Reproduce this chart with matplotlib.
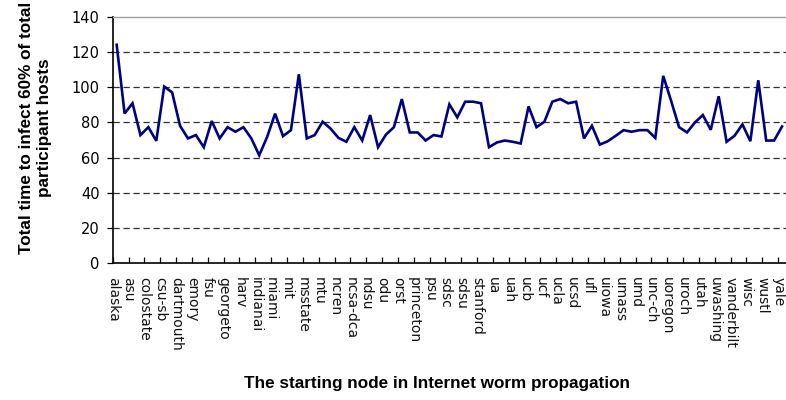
import matplotlib
matplotlib.use("Agg")
import matplotlib.pyplot as plt
import numpy as np

# Values for every starting node (85 categories, every other one labelled)
infect_time = [124.2, 85.1, 90.9, 72.8, 77.3, 69.5, 100.4, 97.1, 78.1, 70.9,
               72.8, 65.9, 80.8, 70.9, 77.3, 74.7, 77.3, 70.9, 61.3, 71.8,
               85.0, 72.2, 75.6, 107.4, 70.9, 72.8, 80.4, 76.5, 71.2, 69.0,
               77.3, 69.7, 84.2, 65.9, 73.1, 77.3, 93.3, 74.3, 74.3, 69.7,
               72.8, 72.0, 90.3, 82.9, 91.8, 91.8, 90.9, 65.9, 68.6, 69.7,
               69.0, 68.0, 89.1, 77.3, 80.4, 91.8, 93.3, 90.9, 91.8, 70.9,
               78.1, 67.4, 69.3, 72.4, 75.6, 74.7, 75.6, 75.6, 71.2, 106.5,
               92.2, 77.3, 74.3, 80.0, 84.2, 75.8, 94.9, 69.0, 72.4, 78.9,
               69.3, 104.0, 69.7, 69.7, 77.7]

tick_labels = ["alaska", "asu", "colostate", "csu-sb", "dartmouth", "emory",
               "fsu", "georgeto", "harv", "indianai", "miami", "mit",
               "msstate", "mtu", "ncren", "ncsa-dca", "ndsu", "odu", "orst",
               "princeton", "psu", "sdsc", "sdsu", "stanford", "ua", "uah",
               "ucb", "ucf", "ucla", "ucsd", "ufl", "uiowa", "umass", "umd",
               "unc-ch", "uoregon", "uroch", "utah", "uwashing", "vanderbilt",
               "wisc", "wustl", "yale"]

y_ticks = [0, 20, 40, 60, 80, 100, 120, 140]

fig = plt.figure(figsize=(7.86, 4.0), dpi=100)
ax = fig.add_axes([0.1434, 0.3425, 0.8566, 0.615])

x = np.arange(len(infect_time))
ax.plot(x, infect_time, color="#000080", linewidth=1.9, solid_joinstyle="miter")

ax.set_xlim(-0.5, len(infect_time) - 0.5)
ax.set_ylim(0, 140)

ax.set_yticks(y_ticks)
ax.set_yticklabels([str(v) for v in y_ticks], fontsize=10.5, family="DejaVu Sans")
for v in y_ticks[1:-1]:
    ax.axhline(v, color="#303030", linewidth=0.9, dashes=(5, 3), zorder=0)

tick_pos = np.arange(len(tick_labels)) * 2 - 0.5
ax.set_xticks(tick_pos)
ax.set_xticklabels(tick_labels, rotation=-90, fontsize=10,
                   family="DejaVu Sans", va="top", ha="center", color="#111111")
ax.tick_params(axis="x", direction="in", length=4.5, width=0.9, pad=10)
ax.tick_params(axis="y", direction="out", length=4.5, width=0.9, pad=5)

for s in ["left", "bottom"]:
    ax.spines[s].set_color("black")
    ax.spines[s].set_linewidth(1.2)
ax.spines["top"].set_color("#a0a0a0")
ax.spines["top"].set_linewidth(1.0)
ax.spines["right"].set_visible(False)

fig.text(0.556, 0.042, "The starting node in Internet worm propagation",
         ha="center", va="center", fontsize=12.3, fontweight="bold",
         family="Liberation Sans")
fig.text(0.045, 0.68, "Total time to infect 60% of total\nparticipant hosts",
         ha="center", va="center", rotation=90, fontsize=12.3,
         fontweight="bold", family="Liberation Sans", linespacing=1.3)

fig.savefig("out.png", dpi=100)
